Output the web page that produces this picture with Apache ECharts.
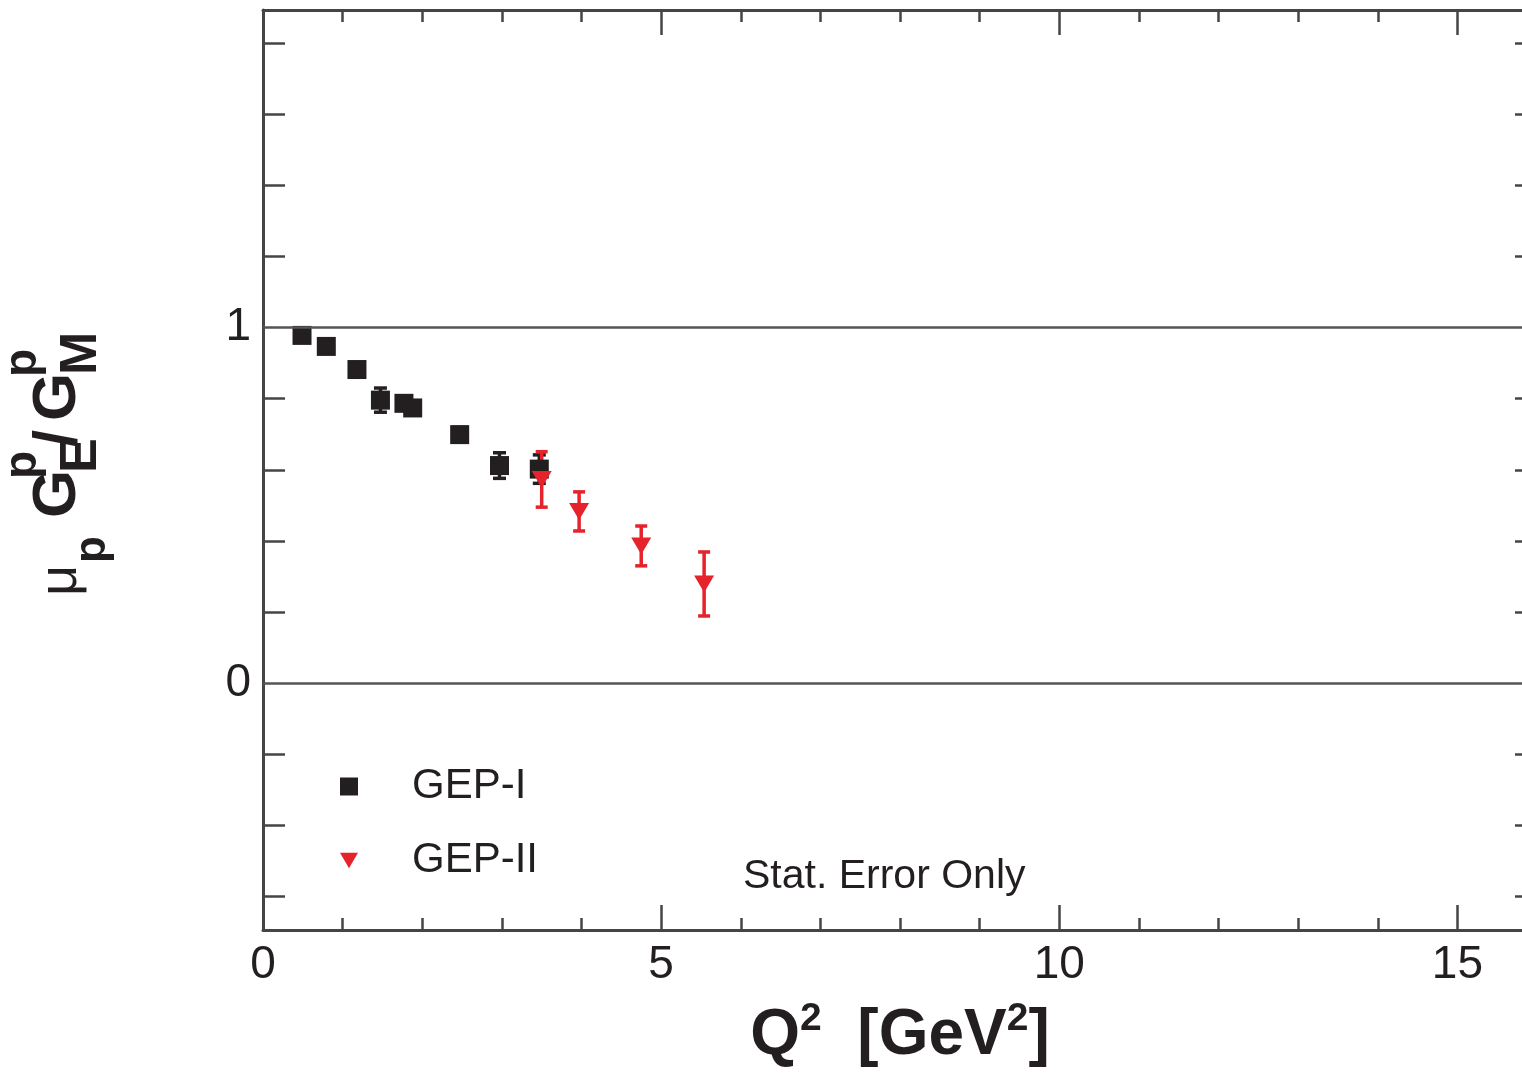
<!DOCTYPE html>
<html>
<head>
<meta charset="utf-8">
<script src="https://cdn.jsdelivr.net/npm/echarts@6/dist/echarts.min.js"></script>
<style>
html,body{margin:0;padding:0;background:#fff;}
#chart{width:1522px;height:1079px;}
</style>
</head>
<body>
<div id="chart"></div>
<script>
// ---- data ----
const gep1Q   = [0.49, 0.795, 1.18, 1.475, 1.77, 1.88, 2.47, 2.97, 3.47];
const gep1R   = [0.978, 0.947, 0.882, 0.796, 0.787, 0.774, 0.699, 0.612, 0.602];
const gep1Err = [0.012, 0.012, 0.014, 0.034, 0.018, 0.018, 0.020, 0.036, 0.040];

const gep2Q   = [3.50, 3.97, 4.75, 5.54];
const gep2R   = [0.573, 0.483, 0.386, 0.279];
const gep2Err = [0.078, 0.055, 0.056, 0.090];

const xMajorTicks = [0, 5, 10, 15];
const xMinorTicks = [1, 2, 3, 4, 6, 7, 8, 9, 11, 12, 13, 14];
const xTickLabels = [0, 5, 10, 15];
const yMinorTicks = [-0.6, -0.4, -0.2, 0.2, 0.4, 0.6, 0.8, 1.2, 1.4, 1.6, 1.8];
const yTickLabels = [0, 1];
const refLines = [0, 1];

const X_MIN = 0, X_MAX = 16;
const Y_MIN = -0.694, Y_MAX = 1.893;

const FONT = '"Liberation Sans", Arial, Helvetica, sans-serif';
const INK = '#231f20';
const AX = '#454545';
const RED = '#e6222b';

const chart = echarts.init(document.getElementById('chart'), null, {renderer: 'canvas'});

function errRender(color, capW, lw) {
  return function (params, api) {
    const x = api.value(0), lo = api.value(1), hi = api.value(2);
    const p1 = api.coord([x, lo]);
    const p2 = api.coord([x, hi]);
    const h = capW / 2;
    const st = {stroke: color, lineWidth: lw};
    return {
      type: 'group',
      children: [
        {type: 'line', shape: {x1: p1[0], y1: p1[1], x2: p2[0], y2: p2[1]}, style: st},
        {type: 'line', shape: {x1: p1[0] - h, y1: p1[1], x2: p1[0] + h, y2: p1[1]}, style: st},
        {type: 'line', shape: {x1: p2[0] - h, y1: p2[1], x2: p2[0] + h, y2: p2[1]}, style: st}
      ]
    };
  };
}

const err1 = gep1Q.map((q, i) => [q, gep1R[i] - gep1Err[i], gep1R[i] + gep1Err[i]]);
const err2 = gep2Q.map((q, i) => [q, gep2R[i] - gep2Err[i], gep2R[i] + gep2Err[i]]);
const pts1 = gep1Q.map((q, i) => [q, gep1R[i]]);
const pts2 = gep2Q.map((q, i) => [q, gep2R[i]]);

function xAxisDef(pos, ticks, len, showLine, labels, extra) {
  return Object.assign({
    type: 'value', position: pos, min: X_MIN, max: X_MAX, gridIndex: 0,
    axisLine: {show: showLine, onZero: false, lineStyle: {color: AX, width: 3}},
    axisTick: {show: true, inside: true, length: len, customValues: ticks, lineStyle: {color: AX, width: 2.5}},
    axisLabel: labels ? {show: true, customValues: labels, fontSize: 46, fontFamily: FONT, color: INK, margin: 12} : {show: false},
    splitLine: {show: false}
  }, extra || {});
}
function yAxisDef(pos, labels) {
  return {
    type: 'value', position: pos, min: Y_MIN, max: Y_MAX, gridIndex: 0,
    axisLine: {show: true, onZero: false, lineStyle: {color: AX, width: 3}},
    axisTick: {show: true, inside: true, length: 22, customValues: yMinorTicks, lineStyle: {color: AX, width: 2.5}},
    axisLabel: labels ? {show: true, customValues: labels, fontSize: 46, fontFamily: FONT, color: INK, margin: 12} : {show: false},
    splitLine: {show: false}
  };
}

// y-axis title pieces (rotated group): [text, fontSize, bold, localX, baselineLocalY]
const yTitleParts = [
  ['\u03bc', 54, false, 4, 80],
  ['p', 44, true, 37, 108],
  ['G', 62, true, 82, 80],
  ['p', 46, true, 121, 39.5],
  ['E', 52, true, 127, 100],
  ['/', 62, true, 153, 81],
  ['G', 62, true, 179, 80],
  ['p', 46, true, 223, 39.5],
  ['M', 52, true, 225, 100]
];

const option = {
  animation: false,
  backgroundColor: '#fff',
  grid: {left: 263, top: 10, width: 1274, height: 920, containLabel: false, outerBoundsMode: 'none'},
  xAxis: [
    xAxisDef('bottom', xMajorTicks, 25, true, xTickLabels, {
      name: '{b|Q}{s|2}{b|  [GeV}{s|2}{b|]}',
      nameLocation: 'middle',
      nameGap: 70,
      nameMoveOverlap: false,
      nameTextStyle: {
        rich: {
          b: {fontSize: 64, fontWeight: 'bold', fontFamily: FONT, color: INK, lineHeight: 72},
          s: {fontSize: 39, fontWeight: 'bold', fontFamily: FONT, color: INK, lineHeight: 30, verticalAlign: 'top'}
        }
      }
    }),
    xAxisDef('bottom', xMinorTicks, 12, false, null),
    xAxisDef('top', xMajorTicks, 25, true, null),
    xAxisDef('top', xMinorTicks, 12, false, null)
  ],
  yAxis: [
    yAxisDef('left', yTickLabels),
    yAxisDef('right', null)
  ],
  legend: {
    show: true,
    orient: 'vertical',
    left: 340,
    top: 763,
    padding: 0,
    itemWidth: 18,
    itemHeight: 18,
    itemGap: 27,
    symbolKeepAspect: true,
    selectedMode: false,
    data: [
      {name: 'GEP-I', icon: 'rect'},
      {name: 'GEP-II', icon: 'path://M0,0L20,0L10,17Z'}
    ],
    textStyle: {fontSize: 42, fontFamily: FONT, color: INK, lineHeight: 44, padding: [3, 0, 0, 49]}
  },
  series: [
    {
      name: 'GEP-I error', type: 'custom', xAxisIndex: 0, yAxisIndex: 0,
      renderItem: errRender(INK, 13, 3.5), data: err1, encode: {x: 0, y: [1, 2]}, silent: true
    },
    {
      name: 'GEP-I', type: 'scatter', xAxisIndex: 0, yAxisIndex: 0,
      symbol: 'rect', symbolSize: 19, itemStyle: {color: INK, opacity: 1},
      data: pts1,
      markLine: {
        silent: true, symbol: ['none', 'none'], label: {show: false},
        lineStyle: {color: '#555', width: 2.5, type: 'solid'},
        data: refLines.map(v => ({yAxis: v}))
      }
    },
    {
      name: 'GEP-II error', type: 'custom', xAxisIndex: 0, yAxisIndex: 0,
      renderItem: errRender(RED, 12, 3.5), data: err2, encode: {x: 0, y: [1, 2]}, silent: true
    },
    {
      name: 'GEP-II', type: 'scatter', xAxisIndex: 0, yAxisIndex: 0,
      symbol: 'triangle', symbolRotate: 180, symbolSize: [20, 17],
      itemStyle: {color: RED, opacity: 1},
      data: pts2
    }
  ],
  graphic: [
    {
      type: 'text', left: 743, top: 856,
      style: {text: 'Stat. Error Only', font: '41px ' + FONT, fill: INK}
    },
    {
      type: 'group', x: 0, y: 600, rotation: Math.PI / 2,
      children: yTitleParts.map(p => ({
        type: 'text', x: p[3], y: p[4] - 0.35 * p[1],
        style: {
          text: p[0],
          font: (p[2] ? 'bold ' : '') + p[1] + 'px ' + FONT,
          fill: INK, align: 'left', verticalAlign: 'middle'
        }
      }))
    }
  ]
};
chart.setOption(option);
</script>
</body>
</html>
